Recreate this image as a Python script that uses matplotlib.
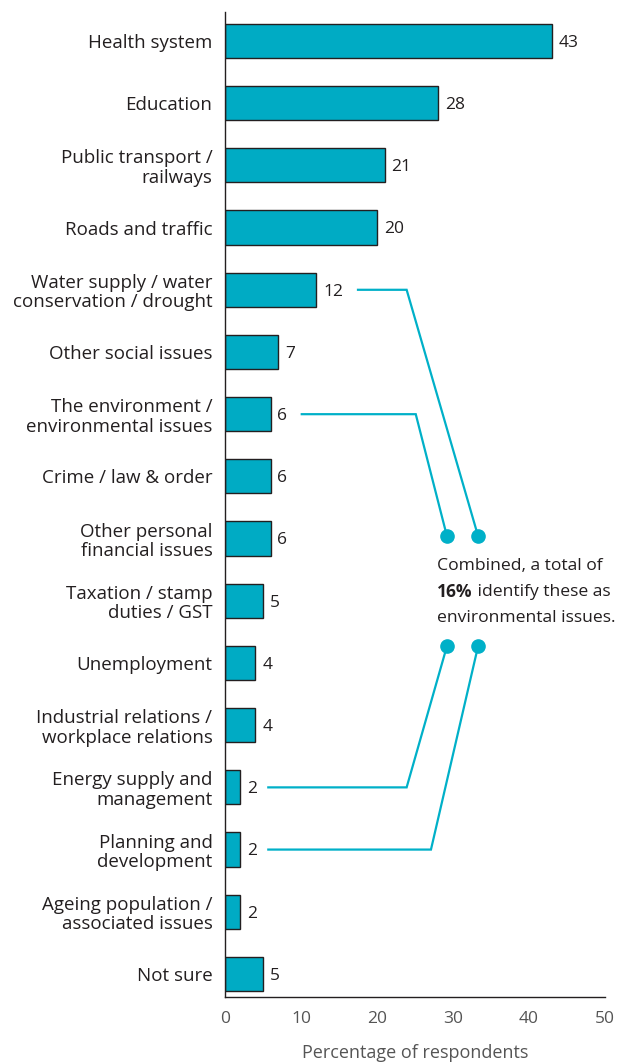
import numpy as np
import matplotlib.pyplot as plt

plt.rcParams['font.family'] = ['Open Sans', 'DejaVu Sans']

issues = [
    'Health system',
    'Education',
    'Public transport /\nrailways',
    'Roads and traffic',
    'Water supply / water\nconservation / drought',
    'Other social issues',
    'The environment /\nenvironmental issues',
    'Crime / law & order',
    'Other personal\nfinancial issues',
    'Taxation / stamp\nduties / GST',
    'Unemployment',
    'Industrial relations /\nworkplace relations',
    'Energy supply and\nmanagement',
    'Planning and\ndevelopment',
    'Ageing population /\nassociated issues',
    'Not sure',
]
percent = [43, 28, 21, 20, 12, 7, 6, 6, 6, 5, 4, 4, 2, 2, 2, 5]
x_ticks = [0, 10, 20, 30, 40, 50]

teal = '#00abc4'
line_teal = '#00b0c8'
dark = '#231f20'
grey = '#555555'

fig = plt.figure(figsize=(6.22, 10.63), dpi=100)
ax = fig.add_axes([0.3617, 0.0621, 0.611, 0.9266])

y = np.arange(len(issues))
ax.barh(y, percent, height=0.55, color=teal, edgecolor=dark, linewidth=1.0)

for i, v in enumerate(percent):
    ax.text(v + 0.9, i + 0.03, str(v), va='center', ha='left', fontsize=12.5, color=dark)

ax.set_yticks(y)
ax.set_yticklabels(issues, fontsize=13.5, color=dark, linespacing=1.1)
ax.tick_params(axis='y', length=0, pad=9)
ax.set_xticks(x_ticks)
ax.set_xticklabels([str(t) for t in x_ticks], fontsize=12.5, color=grey)
ax.tick_params(axis='x', length=0, pad=10)
ax.set_xlim(0, 50)
ax.set_ylim(15.37, -0.466)

for s in ['top', 'right']:
    ax.spines[s].set_visible(False)
for s in ['left', 'bottom']:
    ax.spines[s].set_linewidth(1.0)
    ax.spines[s].set_color(dark)

ax.set_xlabel('Percentage of respondents', fontsize=13, color=grey, labelpad=12)

# connector lines from the environment-related bars to the callout
top_dot_y, bottom_dot_y = 7.96, 9.73
left_dot_x, right_dot_x = 29.2, 33.3
connectors = [
    ([17.5, 23.9, right_dot_x], [4, 4, top_dot_y]),
    ([10.1, 25.1, left_dot_x], [6, 6, top_dot_y]),
    ([5.7, 23.9, left_dot_x], [12, 12, bottom_dot_y]),
    ([5.7, 27.1, right_dot_x], [13, 13, bottom_dot_y]),
]
for xs, ys in connectors:
    ax.plot(xs, ys, color=line_teal, lw=1.6, clip_on=False, solid_joinstyle='miter')
    ax.plot(xs[-1], ys[-1], 'o', color=line_teal, ms=9.5, clip_on=False)

callout_x = 27.9
fs = 12.6
ax.text(callout_x, 8.44, 'Combined, a total of', fontsize=fs, color=dark,
        va='center', ha='left', clip_on=False)
t = ax.text(callout_x, 8.86, '16%', fontsize=fs, color=dark, va='center',
            ha='left', fontweight='bold', clip_on=False)
ax.annotate(' identify these as', xycoords=t, xy=(1, 0.5), va='center', ha='left',
            fontsize=fs, color=dark, annotation_clip=False)
ax.text(callout_x, 9.28, 'environmental issues.', fontsize=fs, color=dark,
        va='center', ha='left', clip_on=False)

fig.savefig('out.png', dpi=100)
